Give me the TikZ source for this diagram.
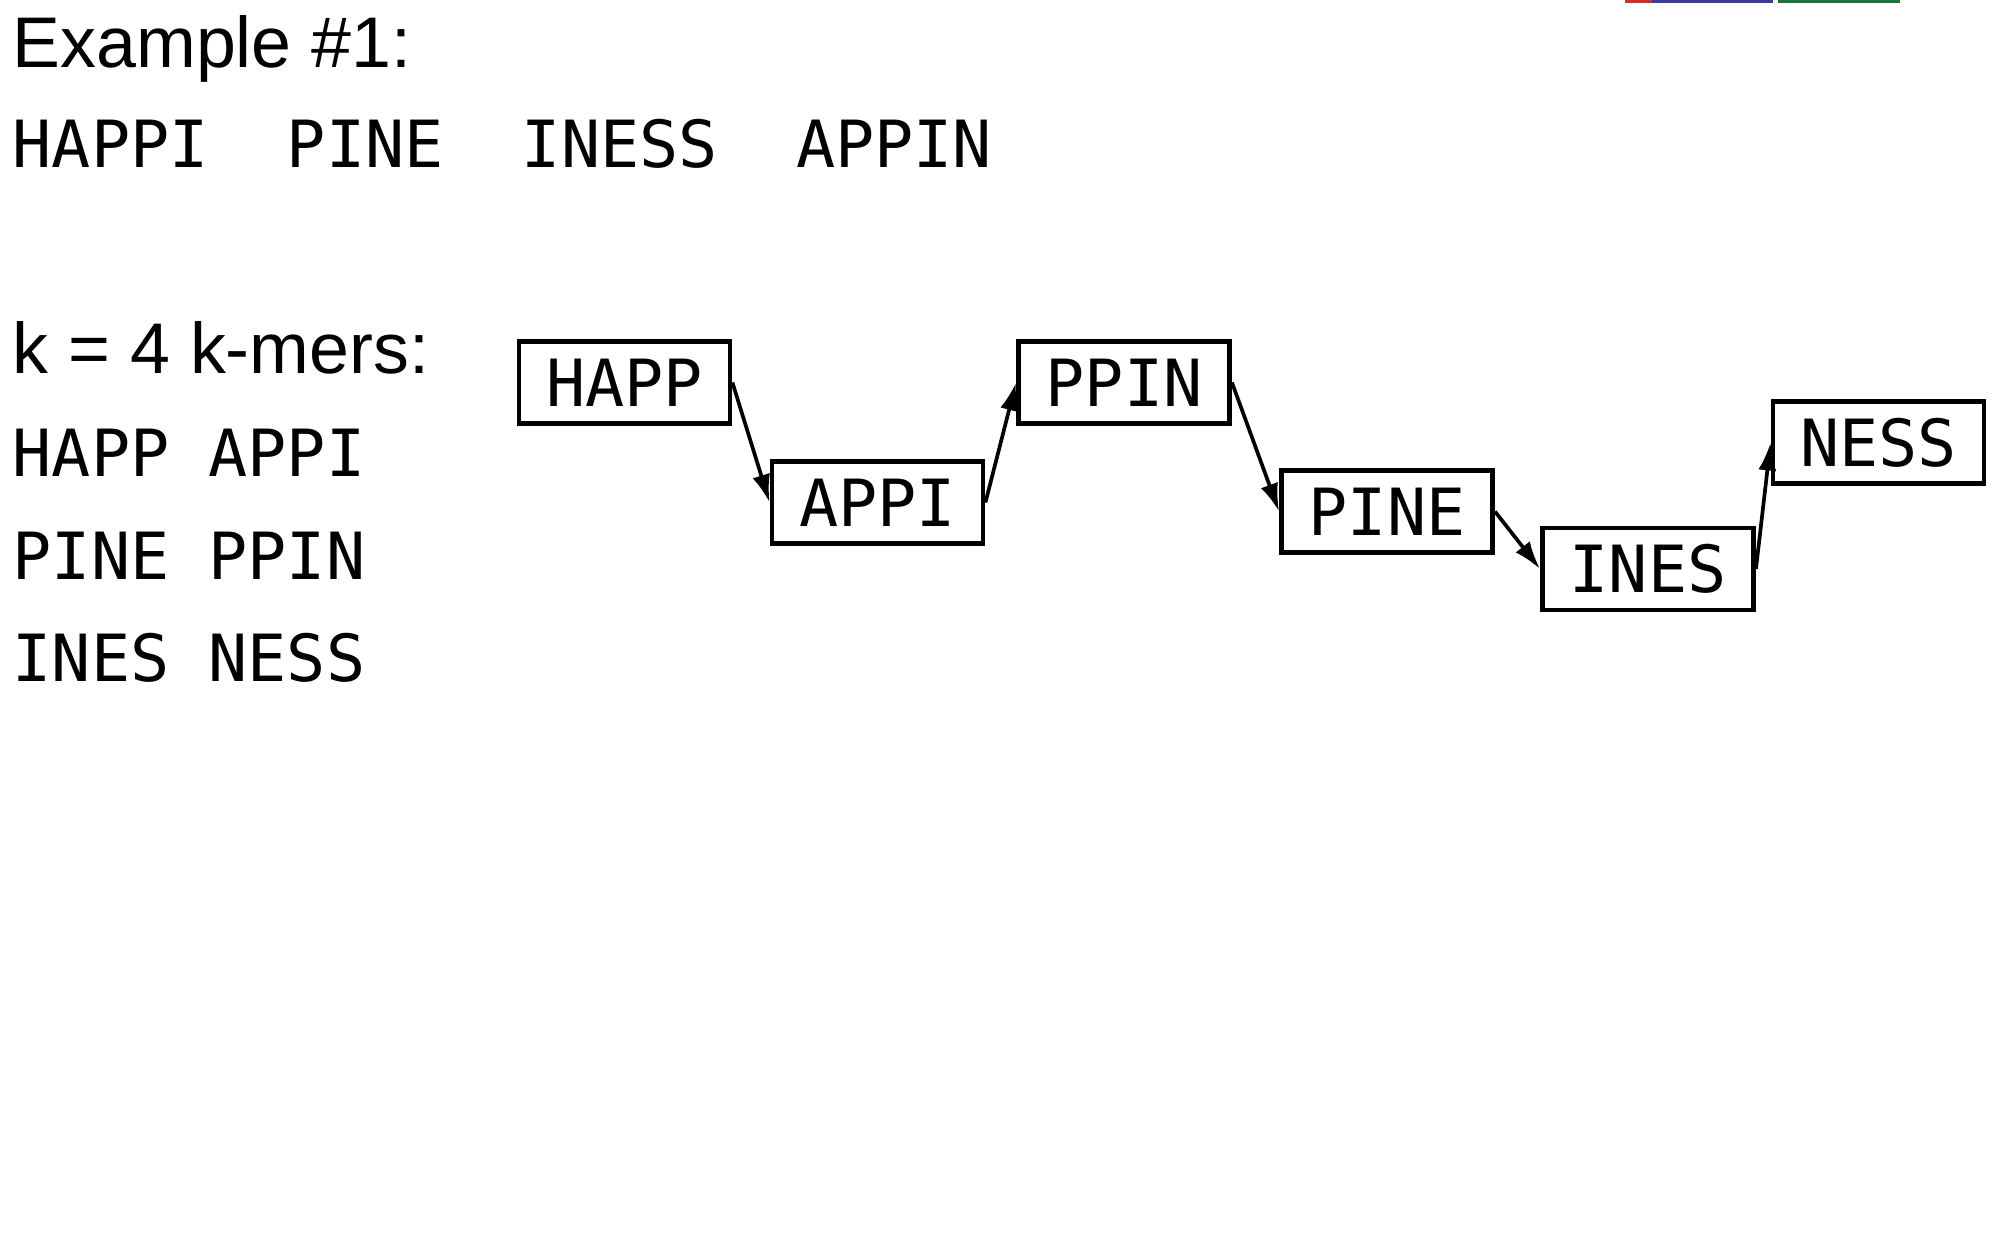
\documentclass[tikz,border=0pt]{standalone}
\usepackage{fontspec}
\setmainfont{Liberation Sans}
\newfontfamily\monofont{DejaVu Sans Mono}
\usetikzlibrary{arrows.meta}
\definecolor{barred}{RGB}{220,40,40}
\definecolor{barblue}{RGB}{60,60,160}
\definecolor{bargreen}{RGB}{20,120,60}
\tikzset{
  headtext/.style={anchor=base west,inner sep=0pt,font=\fontsize{20.4pt}{24pt}\selectfont},
  monotext/.style={anchor=base west,inner sep=0pt,font=\monofont\fontsize{18.5pt}{22pt}\selectfont},
  kbox/.style={draw,line width=1.35pt,minimum width=2.11cm,minimum height=0.82cm,inner sep=0pt,
    font=\monofont\fontsize{18.5pt}{22pt}\selectfont},
  arr/.style={line width=1.05pt,-{Latex[length=0.28cm,width=0.18cm]}},
}
\begin{document}
\begin{tikzpicture}[x=0.01cm,y=-0.01cm]
\useasboundingbox (0,0) rectangle (2000,1252);
\fill[white] (0,0) rectangle (2000,1252);
% partial colour bar at the top
\fill[barred] (1625,0) rectangle (1653,3);
\fill[barblue] (1652,0) rectangle (1773,3);
\fill[bargreen] (1778,0) rectangle (1900,3);
% left texts
\node[headtext] (title) at (12,68) {Example \#1:};
\node[monotext] (words) at (12,168) {HAPPI\ \ PINE\ \ INESS\ \ APPIN};
\node[headtext] (kline) at (12,374) {k = 4 k-mers:};
\node[monotext] (l1) at (12,477) {HAPP APPI};
\node[monotext] (l2) at (12,579) {PINE PPIN};
\node[monotext] (l3) at (12,681) {INES NESS};
% boxes
\node[kbox] (HAPP) at (624.5,382.5) {HAPP};
\node[kbox] (APPI) at (877.5,502.5) {APPI};
\node[kbox] (PPIN) at (1124,382.5) {PPIN};
\node[kbox] (PINE) at (1387,511.5) {PINE};
\node[kbox] (INES) at (1648,569) {INES};
\node[kbox] (NESS) at (1878.5,442.5) {NESS};
% arrows
\draw[arr] (HAPP.east) -- (APPI.west);
\draw[arr] (APPI.east) -- (PPIN.west);
\draw[arr] (PPIN.east) -- (PINE.west);
\draw[arr] (PINE.east) -- (INES.west);
\draw[arr] (INES.east) -- (NESS.west);
\end{tikzpicture}
\end{document}
